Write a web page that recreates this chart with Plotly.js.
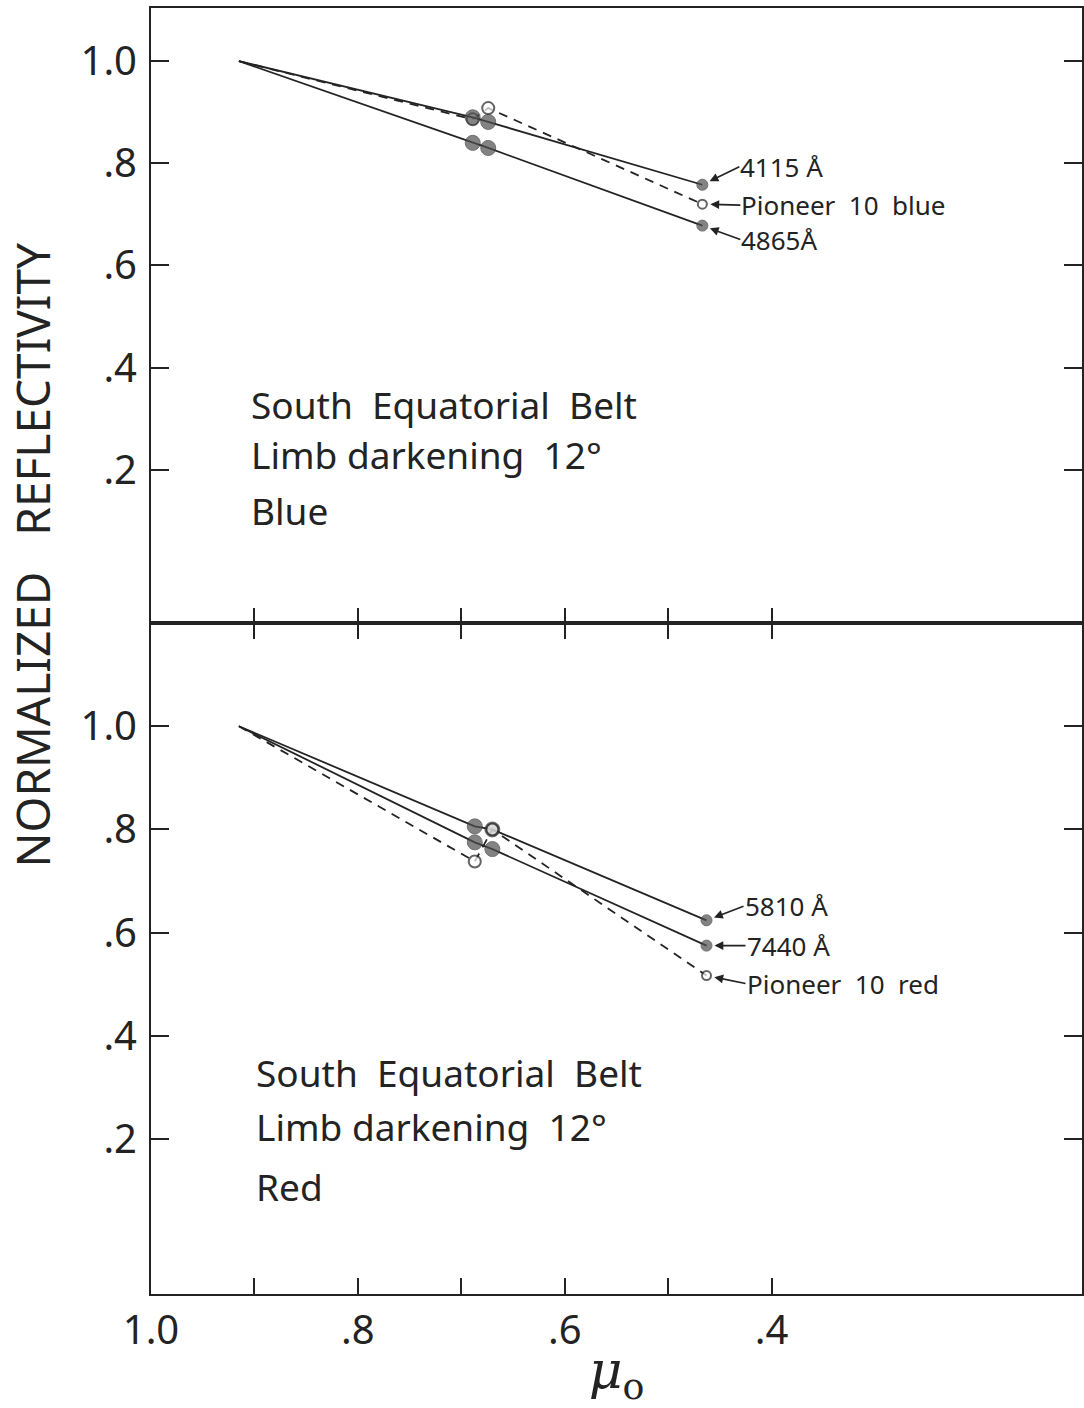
<!DOCTYPE html>
<html>
<head>
<meta charset="utf-8">
<script src="https://cdn.plot.ly/plotly-3.0.1.min.js"></script>
<style>
  html, body { margin: 0; padding: 0; background: #ffffff; }
  #chart { width: 1084px; height: 1408px; }
</style>
</head>
<body>
<div id="chart"></div>
<script>
// Limb darkening of the South Equatorial Belt (12°), normalized reflectivity vs mu0

// Upper panel: blue wavelengths
const MU_BLUE = [0.915, 0.689, 0.674, 0.467];
const R_4115 = [1.0, 0.890, 0.881, 0.758];
const R_4865 = [1.0, 0.840, 0.830, 0.678];
const R_PIONEER_BLUE = [1.0, 0.886, 0.908, 0.720];

// Lower panel: red wavelengths
const MU_RED = [0.915, 0.687, 0.670, 0.463];
const R_5810 = [1.0, 0.806, 0.800, 0.624];
const R_7440 = [1.0, 0.775, 0.762, 0.575];
const R_PIONEER_RED = [1.0, 0.738, 0.800, 0.517];

const SP = '\u00a0';

// Series labels
const LABEL_4115 = '4115' + SP + 'Å';
const LABEL_4865 = '4865Å';
const LABEL_PIONEER_BLUE = 'Pioneer' + SP + ' 10' + SP + ' blue';
const LABEL_5810 = '5810' + SP + 'Å';
const LABEL_7440 = '7440' + SP + 'Å';
const LABEL_PIONEER_RED = 'Pioneer' + SP + ' 10' + SP + ' red';

// Axis ticks: labelled major ticks and unlabelled minor ticks on mu0
const X_TICKS = [1.0, 0.8, 0.6, 0.4];
const X_TICK_TEXT = ['1.0', '.8', '.6', '.4'];
const X_MINOR_TICKS = [0.9, 0.7, 0.5];
const Y_TICKS = [0.2, 0.4, 0.6, 0.8, 1.0];
const Y_TICK_TEXT = ['.2', '.4', '.6', '.8', '1.0'];

// Panel captions
const CAPTION_BLUE = ['South' + SP + ' Equatorial' + SP + ' Belt', 'Limb' + SP + 'darkening' + SP + ' 12°', 'Blue'];
const CAPTION_RED = ['South' + SP + ' Equatorial' + SP + ' Belt', 'Limb' + SP + 'darkening' + SP + ' 12°', 'Red'];
const Y_TITLE = 'NORMALIZED' + SP + SP + ' REFLECTIVITY';

const INK = '#232323';
const FONT = 'Noto Sans, DejaVu Sans, sans-serif';

function filledSeries(mu, r, xa, ya) {
  return {
    x: mu, y: r, xaxis: xa, yaxis: ya, type: 'scatter', mode: 'lines+markers',
    line: { color: INK, width: 1.8 },
    marker: { size: [0, 15, 15, 11], color: '#505050', line: { color: '#333333', width: 1 } },
    hoverinfo: 'skip', showlegend: false, cliponaxis: false
  };
}
function openSeries(mu, r, xa, ya) {
  return {
    x: mu, y: r, xaxis: xa, yaxis: ya, type: 'scatter', mode: 'lines+markers',
    line: { color: INK, width: 1.8, dash: '9px,7px' },
    marker: { size: [0, 12, 12, 9], color: '#ffffff', line: { color: INK, width: 2 } },
    hoverinfo: 'skip', showlegend: false, cliponaxis: false
  };
}

const traces = [
  openSeries(MU_BLUE, R_PIONEER_BLUE, 'x', 'y'),
  filledSeries(MU_BLUE, R_4115, 'x', 'y'),
  filledSeries(MU_BLUE, R_4865, 'x', 'y'),
  filledSeries(MU_RED, R_5810, 'x2', 'y2'),
  filledSeries(MU_RED, R_7440, 'x2', 'y2'),
  openSeries(MU_RED, R_PIONEER_RED, 'x2', 'y2')
];

const last = a => a[a.length - 1];

function pointer(text, mu, r, xa, ya, ax, ay) {
  return {
    text: text, x: mu, y: r, xref: xa, yref: ya,
    showarrow: true, ax: ax, ay: ay, xanchor: 'left', yanchor: 'middle',
    arrowhead: 2, arrowsize: 1.1, arrowwidth: 1.6, arrowcolor: INK,
    standoff: 8, borderpad: 0, font: { family: FONT, size: 26, color: INK }
  };
}

function caption(lines, xa, ya, x0, ys) {
  return lines.map((t, i) => ({
    text: t, x: x0, y: ys[i], xref: xa, yref: ya, showarrow: false,
    xanchor: 'left', yanchor: 'middle',
    font: { family: FONT, size: 37, color: INK }
  }));
}

const annotations = [
  pointer(LABEL_4115, last(MU_BLUE), last(R_4115), 'x', 'y', 37, -18),
  pointer(LABEL_PIONEER_BLUE, last(MU_BLUE), last(R_PIONEER_BLUE), 'x', 'y', 38, 1),
  pointer(LABEL_4865, last(MU_BLUE), last(R_4865), 'x', 'y', 38, 14),
  pointer(LABEL_5810, last(MU_RED), last(R_5810), 'x2', 'y2', 37, -14),
  pointer(LABEL_7440, last(MU_RED), last(R_7440), 'x2', 'y2', 39, 0),
  pointer(LABEL_PIONEER_RED, last(MU_RED), last(R_PIONEER_RED), 'x2', 'y2', 39, 8),
  ...caption(CAPTION_BLUE, 'x', 'y', 0.905, [0.327, 0.229, 0.121]),
  ...caption(CAPTION_RED, 'x2', 'y2', 0.900, [0.329, 0.225, 0.109]),
  {
    text: Y_TITLE, textangle: -90,
    xref: 'paper', yref: 'paper', x: -0.128, y: 0.575,
    xanchor: 'center', yanchor: 'middle', showarrow: false,
    font: { family: FONT, size: 46, color: INK }
  }
];

const split = (1294 - 623) / 1286;

const xCommon = {
  range: [1.0, 0.1], autorange: false,
  tickmode: 'array', tickvals: X_TICKS, ticktext: X_TICK_TEXT,
  ticks: 'inside', tickwidth: 2, tickcolor: INK,
  showline: true, linewidth: 2, linecolor: INK,
  showgrid: false, zeroline: false, fixedrange: true
};
const yCommon = {
  tickvals: Y_TICKS, ticktext: Y_TICK_TEXT,
  ticks: 'inside', ticklen: 18, tickwidth: 2, tickcolor: INK,
  showline: true, linewidth: 2, linecolor: INK, mirror: 'ticks',
  showgrid: false, zeroline: false, fixedrange: true,
  ticklabelstandoff: 4,
  tickfont: { family: FONT, size: 40, color: INK }
};

const layout = {
  width: 1084, height: 1408,
  margin: { l: 151, r: 2, t: 8, b: 114 },
  paper_bgcolor: '#ffffff', plot_bgcolor: '#ffffff',
  showlegend: false,
  xaxis: Object.assign({}, xCommon, {
    anchor: 'y', ticklen: 15, mirror: true, showticklabels: false,
    minor: { tickmode: 'array', tickvals: X_MINOR_TICKS, ticks: 'inside', ticklen: 15, tickwidth: 2, tickcolor: INK, showgrid: false }
  }),
  yaxis: Object.assign({}, yCommon, {
    anchor: 'x', domain: [split, 1], range: [-0.1, 1.104]
  }),
  xaxis2: Object.assign({}, xCommon, {
    anchor: 'y2', ticklen: 16, mirror: 'ticks',
    minor: { tickmode: 'array', tickvals: X_MINOR_TICKS, ticks: 'inside', ticklen: 16, tickwidth: 2, tickcolor: INK, showgrid: false },
    tickfont: { family: FONT, size: 40, color: INK },
    title: { text: '<i>μ</i><sub>o</sub>', standoff: 18, font: { family: 'DejaVu Serif, serif', size: 52, color: INK } }
  }),
  yaxis2: Object.assign({}, yCommon, {
    anchor: 'x2', domain: [0, split], range: [-0.1, 1.2]
  }),
  annotations: annotations
};

Plotly.newPlot('chart', traces, layout, { staticPlot: true, displayModeBar: false });
</script>
</body>
</html>
